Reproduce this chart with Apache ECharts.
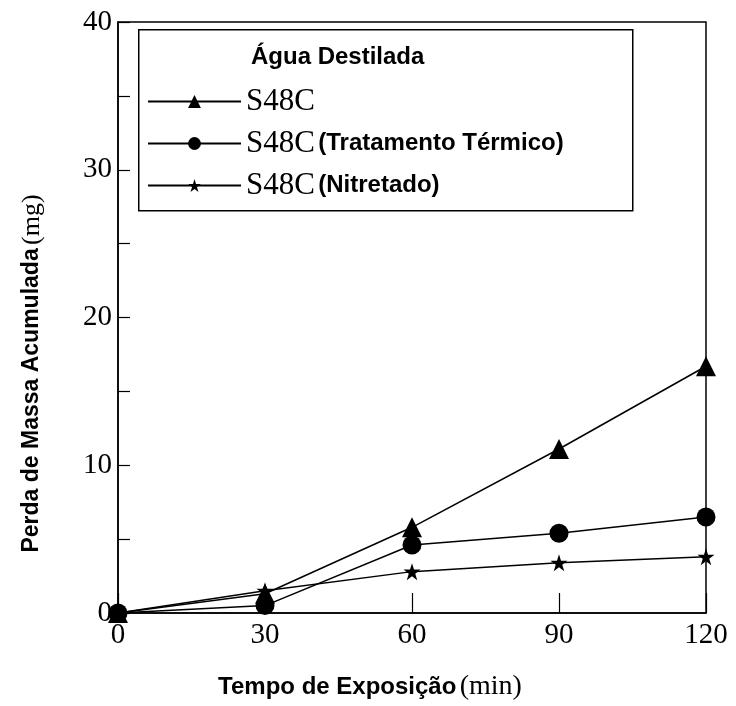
<!DOCTYPE html>
<html><head><meta charset="utf-8">
<script src="https://cdn.jsdelivr.net/npm/echarts@6/dist/echarts.min.js"></script>
<style>html,body{margin:0;padding:0;background:#fff}#c{width:736px;height:706px}</style>
</head><body><div id="c"></div>
<script>
var times = [0, 30, 60, 90, 120];
var s48c = [0, 1.3, 5.8, 11.1, 16.7];
var s48cTT = [0, 0.5, 4.6, 5.4, 6.5];
var s48cNit = [0, 1.5, 2.8, 3.4, 3.8];
var seriesNames = ['S48C', 'S48C (Tratamento Térmico)', 'S48C (Nitretado)'];
var legendTitle = 'Água Destilada';
var xTitle = ['Tempo de Exposição', '(min)'];
var yTitle = ['Perda de Massa Acumulada', '(mg)'];

function pairs(v){ return times.map(function(t,i){ return [t, v[i]]; }); }
var SERIF = '"Liberation Serif","Times New Roman",serif';
var SANS = '"Liberation Sans",Arial,sans-serif';

var chart = echarts.init(document.getElementById('c'));
chart.setOption({
  animation: false,
  backgroundColor: '#fff',
  grid: { left: 118, right: 30, top: 22, bottom: 91, show: true, borderColor: '#000', borderWidth: 1.5, backgroundColor: 'transparent' },
  xAxis: {
    type: 'value', min: 0, max: 120, interval: 30,
    axisLine: { lineStyle: { color: '#000', width: 1.5 } },
    axisTick: { inside: true, length: 20, lineStyle: { color: '#000', width: 1.2 } },
    splitLine: { show: false },
    axisLabel: { color: '#000', fontFamily: SERIF, fontSize: 29, margin: 8 },
    name: '{a|' + xTitle[0] + '} {b|' + xTitle[1] + '}',
    nameLocation: 'middle', nameGap: 60,
    nameTextStyle: { padding: [0, 84, 0, 0], rich: {
      a: { fontFamily: SANS, fontWeight: 'bold', fontSize: 24, color: '#000' },
      b: { fontFamily: SERIF, fontSize: 28, color: '#000' } } }
  },
  yAxis: {
    type: 'value', min: 0, max: 40, interval: 10,
    axisLine: { lineStyle: { color: '#000', width: 1.5 } },
    axisTick: { inside: true, length: 12, lineStyle: { color: '#000', width: 1.2 } },
    minorTick: { show: true, splitNumber: 2, length: 12, lineStyle: { color: '#000', width: 1.2 } },
    splitLine: { show: false },
    axisLabel: { color: '#000', fontFamily: SERIF, fontSize: 29, margin: 6 },
    name: '{a|' + yTitle[0] + '} {b|' + yTitle[1] + '}',
    nameLocation: 'middle', nameGap: 73, nameRotate: 90,
    nameTextStyle: { padding: [0, 112, 0, 0], rich: {
      a: { fontFamily: SANS, fontWeight: 'bold', fontSize: 23, color: '#000' },
      b: { fontFamily: SERIF, fontSize: 26, color: '#000' } } }
  },
  legend: {
    orient: 'vertical', left: 147, top: 86, itemWidth: 93, itemHeight: 16, itemGap: 11,
    padding: 0,
    data: seriesNames,
    textStyle: { color: '#000', rich: {
      s: { fontFamily: SERIF, fontSize: 31, lineHeight: 30, color: '#000' },
      t: { fontFamily: SANS, fontWeight: 'bold', fontSize: 24, lineHeight: 30, color: '#000' } } },
    formatter: function(n){
      var i = n.indexOf(' ');
      if (i < 0) return '{s|' + n + '}';
      return '{s|' + n.slice(0, i) + '} {t|' + n.slice(i + 1) + '}';
    }
  },
  graphic: [
    { type: 'rect', left: 138, top: 29, shape: { width: 494, height: 181 }, style: { fill: '#fff', stroke: '#000', lineWidth: 1.5 }, z: -1, silent: true },
    { type: 'text', left: 251, top: 45, style: { text: legendTitle, font: 'bold 24px ' + SANS, fill: '#000' } }
  ],
  series: [
    { name: seriesNames[0], type: 'line', data: pairs(s48c), symbol: 'triangle', symbolSize: 20,
      lineStyle: { color: '#000', width: 1.5 }, itemStyle: { color: '#000' }, z: 3 },
    { name: seriesNames[1], type: 'line', data: pairs(s48cTT), symbol: 'circle', symbolSize: 19,
      lineStyle: { color: '#000', width: 1.5 }, itemStyle: { color: '#000' }, z: 4 },
    { name: seriesNames[2], type: 'line', data: pairs(s48cNit),
      symbol: 'path://M50,0 L61.8,36.2 L100,36.2 L69.1,58.8 L80.9,95.1 L50,72.7 L19.1,95.1 L30.9,58.8 L0,36.2 L38.2,36.2 Z',
      symbolSize: 17, lineStyle: { color: '#000', width: 1.5 }, itemStyle: { color: '#000' }, z: 5 }
  ]
});
</script></body></html>
